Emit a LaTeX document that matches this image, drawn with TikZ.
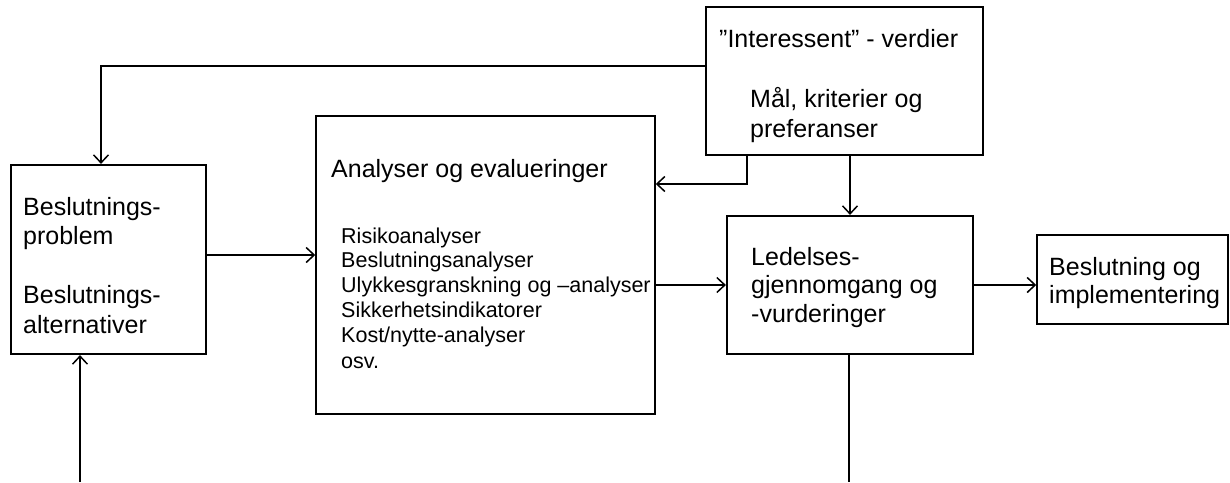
\documentclass[tikz,border=0pt]{standalone}
\usepackage{fontspec}
\setmainfont{Liberation Sans}
\usetikzlibrary{arrows.meta}
\begin{document}
\begin{tikzpicture}[x=1pt,y=-1pt,
  boxthick/.style={draw, line width=2.2pt, inner sep=0pt, rectangle},
  boxthin/.style={draw, line width=1.5pt, inner sep=0pt, rectangle},
  bigtxt/.style={anchor=base west, inner sep=0pt, font=\fontsize{25}{29}\selectfont},
  smalltxt/.style={anchor=base west, inner sep=0pt, font=\fontsize{21.5}{25}\selectfont},
  conn/.style={line width=1.5pt},
  arr/.style={conn, -{Straight Barb[length=8pt,width=15pt,line width=1.5pt]}}]
\useasboundingbox (0,0) rectangle (1230,482);

% boxes
\node[boxthick, minimum width=195, minimum height=189] (A) at (108.5,259.5) {};
\node[boxthin,  minimum width=339, minimum height=298] (B) at (485.5,265) {};
\node[boxthick, minimum width=277, minimum height=148] (C) at (844.5,81) {};
\node[boxthick, minimum width=246, minimum height=138] (D) at (850,285) {};
\node[boxthin,  minimum width=191, minimum height=89]  (E) at (1132.5,279.5) {};

% texts
\node[bigtxt] (a1) at (23,215) {Beslutnings-};
\node[bigtxt] (a2) at (23,244) {problem};
\node[bigtxt] (a3) at (23,303) {Beslutnings-};
\node[bigtxt] (a4) at (23,333) {alternativer};

\node[bigtxt] (b0) at (331,177) {Analyser og evalueringer};
\node[smalltxt] (b1) at (341,243) {Risikoanalyser};
\node[smalltxt] (b2) at (341,267) {Beslutningsanalyser};
\node[smalltxt] (b3) at (341,292) {Ulykkesgranskning og –analyser};
\node[smalltxt] (b4) at (341,317) {Sikkerhetsindikatorer};
\node[smalltxt] (b5) at (341,342) {Kost/nytte-analyser};
\node[smalltxt] (b6) at (341,368) {osv.};

\node[bigtxt] (c1) at (719,47) {”Interessent” - verdier};
\node[bigtxt] (c2) at (750,107) {Mål, kriterier og};
\node[bigtxt] (c3) at (750,137) {preferanser};

\node[bigtxt] (d1) at (751,265) {Ledelses-};
\node[bigtxt] (d2) at (751,293) {gjennomgang og};
\node[bigtxt] (d3) at (751,322) {-vurderinger};

\node[bigtxt] (e1) at (1049,275) {Beslutning og};
\node[bigtxt] (e2) at (1049,303) {implementering};

% free ends of connectors
\coordinate (inA) at (80,482);
\coordinate (outD) at (849,482);

% connectors
\draw[arr] (C.west |- 0,66) -| (A.north -| 101,0);
\draw[arr] (inA) -- (inA |- A.south);
\draw[arr] (A.east |- 0,255) -- (B.west |- 0,255);
\draw[arr] (C.south -| 747,0) |- (B.east |- 0,184);
\draw[arr] (C.south -| D.north) -- (D.north);
\draw[arr] (B.east |- D.west) -- (D.west);
\draw[arr] (D.east) -- (E.west |- D.east);
\draw[conn] (D.south -| outD) -- (outD);
\end{tikzpicture}
\end{document}
